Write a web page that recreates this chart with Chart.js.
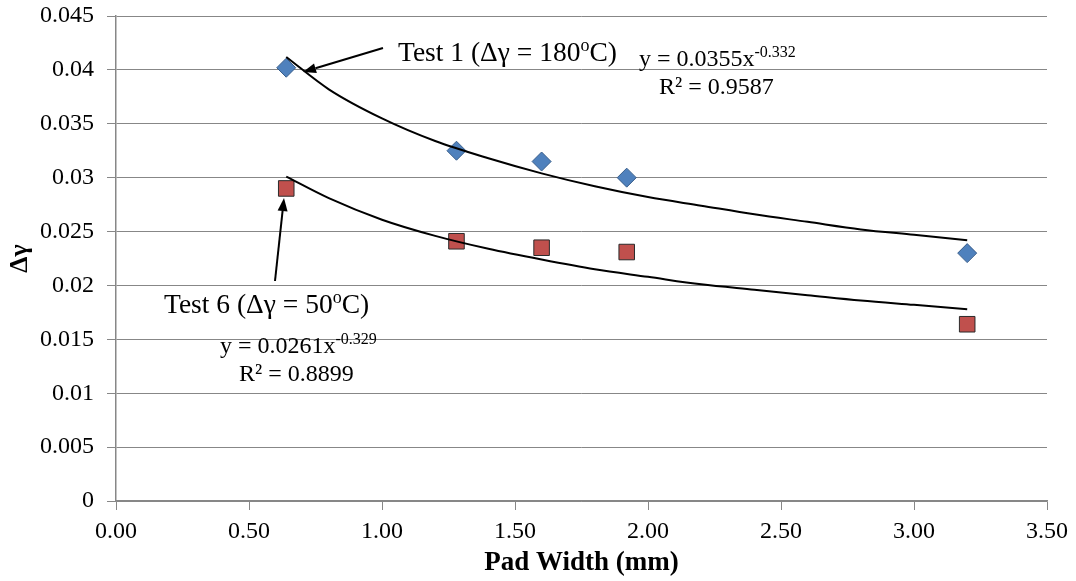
<!DOCTYPE html>
<html>
<head>
<meta charset="utf-8">
<script src="https://cdn.jsdelivr.net/npm/chart.js@4.4.1/dist/chart.umd.min.js"></script>
<style>
  html, body { margin: 0; padding: 0; background: #ffffff; }
  #wrap { width: 1076px; height: 581px; }
</style>
</head>
<body>
<div id="wrap"><canvas id="c" width="1076" height="581"></canvas></div>
<script>
// ---- data ----
const padWidth = [0.64, 1.28, 1.60, 1.92, 3.20];
const test1Values = [0.0402, 0.0325, 0.0315, 0.0300, 0.0230];
const test6Values = [0.0290, 0.0241, 0.0235, 0.0231, 0.0164];

// trend lines
const trendX = [0.64, 0.8, 1.0, 1.2, 1.4, 1.6, 1.8, 2.0, 2.2, 2.4, 2.6, 2.8, 3.0, 3.2];
const trend1Values = [0.0412, 0.0382, 0.0355, 0.0334, 0.0318, 0.0304, 0.0292, 0.0282, 0.0274, 0.0266, 0.0259, 0.0252, 0.0247, 0.0242];
const trend6Values = [0.0301, 0.0281, 0.0261, 0.0246, 0.0234, 0.0224, 0.0215, 0.0208, 0.0201, 0.0196, 0.0191, 0.0186, 0.0182, 0.0178];

const xTicks = [0, 0.5, 1.0, 1.5, 2.0, 2.5, 3.0, 3.5];
const yTicks = [0, 0.005, 0.01, 0.015, 0.02, 0.025, 0.03, 0.035, 0.04, 0.045];

const toPts = (xs, ys) => xs.map((x, i) => ({ x: x, y: ys[i] }));

const SERIF = '"Liberation Serif", "Times New Roman", serif';
const GRID = '#878787';

// ---- annotation plugin (labels, equations, arrows) ----
function drawRich(ctx, parts, x, y, size) {
  let cx = x;
  parts.forEach(p => {
    if (p.sup) {
      ctx.font = Math.round(size * 0.65) + 'px ' + SERIF;
      ctx.fillText(p.t, cx, y - size * 0.38);
    } else {
      ctx.font = size + 'px ' + SERIF;
      ctx.fillText(p.t, cx, y);
    }
    cx += ctx.measureText(p.t).width;
  });
}
function drawArrow(ctx, x1, y1, x2, y2) {
  const ang = Math.atan2(y2 - y1, x2 - x1);
  const hl = 13, hw = 5;
  const bx = x2 - Math.cos(ang) * hl, by = y2 - Math.sin(ang) * hl;
  ctx.strokeStyle = '#000';
  ctx.lineWidth = 2;
  ctx.beginPath();
  ctx.moveTo(x1, y1);
  ctx.lineTo(bx, by);
  ctx.stroke();
  ctx.fillStyle = '#000';
  ctx.beginPath();
  ctx.moveTo(x2, y2);
  ctx.lineTo(bx + Math.sin(ang) * hw, by - Math.cos(ang) * hw);
  ctx.lineTo(bx - Math.sin(ang) * hw, by + Math.cos(ang) * hw);
  ctx.closePath();
  ctx.fill();
}

const annotations = {
  id: 'annotations',
  afterDraw(chart) {
    const ctx = chart.ctx;
    ctx.save();
    ctx.fillStyle = '#000';
    ctx.textBaseline = 'alphabetic';
    ctx.textAlign = 'left';
    // Test 1 label
    drawRich(ctx, [{ t: 'Test 1 (\u0394\u03B3 = 180' }, { t: 'o', sup: true }, { t: 'C)' }], 398, 61, 27.5);
    drawRich(ctx, [{ t: 'y = 0.0355x' }, { t: '-0.332', sup: true }], 639, 66, 24);
    drawRich(ctx, [{ t: 'R\u00B2 = 0.9587' }], 659, 94, 24);
    // Test 6 label
    drawRich(ctx, [{ t: 'Test 6 (\u0394\u03B3 = 50' }, { t: 'o', sup: true }, { t: 'C)' }], 164, 313, 27.5);
    drawRich(ctx, [{ t: 'y = 0.0261x' }, { t: '-0.329', sup: true }], 220, 353, 24);
    drawRich(ctx, [{ t: 'R\u00B2 = 0.8899' }], 239, 381, 24);
    // arrows
    drawArrow(ctx, 383, 48, 303, 72);
    drawArrow(ctx, 275, 281, 284, 198);
    ctx.restore();
  }
};

new Chart(document.getElementById('c'), {
  type: 'scatter',
  data: {
    datasets: [
      {
        label: 'Trend Test 1',
        data: toPts(trendX, trend1Values),
        showLine: true,
        borderColor: '#000',
        borderWidth: 2,
        pointRadius: 0,
        tension: 0.4,
        cubicInterpolationMode: 'monotone',
        order: 0
      },
      {
        label: 'Trend Test 6',
        data: toPts(trendX, trend6Values),
        showLine: true,
        borderColor: '#000',
        borderWidth: 2,
        pointRadius: 0,
        tension: 0.4,
        cubicInterpolationMode: 'monotone',
        order: 0
      },
      {
        label: 'Test 1',
        data: toPts(padWidth, test1Values),
        pointStyle: 'rectRot',
        pointRadius: 9.5,
        pointHoverRadius: 9.5,
        backgroundColor: '#4F81BD',
        borderColor: '#385D8A',
        borderWidth: 1,
        order: 1
      },
      {
        label: 'Test 6',
        data: toPts(padWidth, test6Values),
        pointStyle: 'rect',
        pointRadius: 11,
        pointHoverRadius: 11,
        backgroundColor: '#C0504D',
        borderColor: '#2b2b2b',
        borderWidth: 1,
        order: 1
      }
    ]
  },
  options: {
    responsive: false,
    animation: false,
    layout: { padding: { left: 0, right: 29, top: 16, bottom: 0 } },
    plugins: {
      legend: { display: false },
      tooltip: { enabled: false }
    },
    scales: {
      x: {
        type: 'linear',
        min: 0,
        max: 3.5,
        afterBuildTicks: s => { s.ticks = xTicks.map(v => ({ value: v })); },
        afterFit: s => { s.height = 80; s.paddingRight = 0; s.paddingLeft = 0; },
        ticks: {
          color: '#000',
          font: { family: SERIF, size: 24 },
          padding: 7,
          maxRotation: 0,
          callback: v => Number(v).toFixed(2)
        },
        grid: { drawOnChartArea: false, drawTicks: true, tickLength: 9, color: GRID, lineWidth: 1 },
        border: { display: true, color: GRID, width: 1.5 },
        title: {
          display: true,
          text: 'Pad Width (mm)',
          color: '#000',
          font: { family: SERIF, size: 27, weight: 'bold' },
          padding: { top: 0, bottom: 2 }
        }
      },
      y: {
        type: 'linear',
        min: 0,
        max: 0.045,
        afterBuildTicks: s => { s.ticks = yTicks.map(v => ({ value: v })); },
        afterFit: s => { s.width = 116; s.paddingTop = 0; s.paddingBottom = 0; },
        ticks: {
          color: '#000',
          font: { family: SERIF, size: 24 },
          padding: 13,
          callback: v => String(parseFloat(Number(v).toFixed(3)))
        },
        grid: { drawOnChartArea: true, drawTicks: true, tickLength: 9, color: GRID, lineWidth: 1 },
        border: { display: true, color: GRID, width: 1.5 },
        title: {
          display: true,
          text: '\u0394\u03B3',
          color: '#000',
          font: { family: SERIF, size: 26, weight: 'bold' },
          padding: { top: 5, bottom: 0 }
        }
      }
    }
  },
  plugins: [annotations]
});
</script>
</body>
</html>
